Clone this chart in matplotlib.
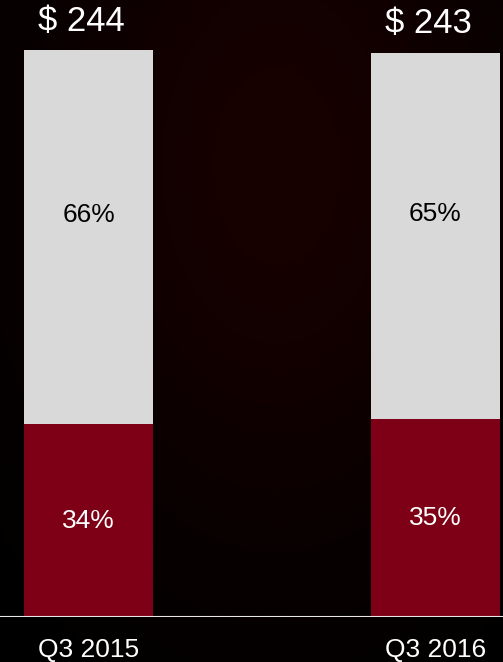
import numpy as np
import matplotlib.pyplot as plt

quarters = ['Q3 2015', 'Q3 2016']
totals = [244, 243]
share_bottom = [34, 35]
share_top = [66, 65]

red = '#7d0016'
grey = '#d9d9d9'

plt.rcParams['font.family'] = ['Liberation Sans', 'DejaVu Sans']

fig = plt.figure(figsize=(5.03, 6.62), dpi=100)
fig.patch.set_facecolor('#060102')

# dark backdrop with a faint red glow
bg = fig.add_axes([0, 0, 1, 1], zorder=0)
yy, xx = np.mgrid[0:1:300j, 0:1:230j]
glow = np.exp(-((xx - 0.55) ** 2 / 0.25 + (yy - 0.75) ** 2 / 0.35))
bg.imshow(glow, cmap='gist_heat', vmin=0, vmax=16, aspect='auto',
          extent=[0, 1, 0, 1], origin='lower')
bg.axis('off')

ax = fig.add_axes([0, 45 / 662, 1, 617 / 662], zorder=1)
ax.patch.set_alpha(0)

x = np.arange(len(quarters))
bottom_vals = [t * p / 100 for t, p in zip(totals, share_bottom)]
top_vals = [t * p / 100 for t, p in zip(totals, share_top)]

w = 0.372
ax.bar(x, bottom_vals, width=w, color=red, edgecolor='none')
ax.bar(x, top_vals, width=w, bottom=bottom_vals, color=grey, edgecolor='none')

for i in range(len(quarters)):
    ax.text(x[i], bottom_vals[i] / 2, f'{share_bottom[i]}%', ha='center',
            va='center', color='white', fontsize=19)
    ax.text(x[i], bottom_vals[i] + top_vals[i] * 0.56, f'{share_top[i]}%',
            ha='center', va='center', color='black', fontsize=19)
    ax.annotate(f'$ {totals[i]}', (x[i], totals[i]), xytext=(-5, 21),
                textcoords='offset points', ha='center', va='center',
                color='white', fontsize=25)

ax.axhline(0, color='#e8e8e8', lw=1.5)
ax.set_xlim(-0.2554, 1.196)
ax.set_ylim(0, 265.6)
ax.set_xticks(x)
ax.set_xticklabels(quarters, color='white', fontsize=19)
ax.tick_params(axis='x', length=0, pad=15)
ax.set_yticks([])
for s in ax.spines.values():
    s.set_visible(False)

fig.savefig('out.png', dpi=100, facecolor=fig.get_facecolor())
